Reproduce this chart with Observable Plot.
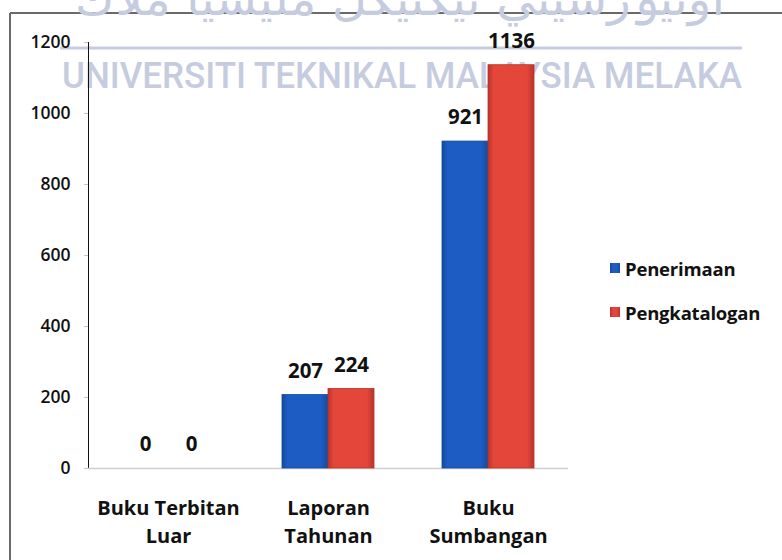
<!DOCTYPE html>
<html>
<head>
<meta charset="utf-8">
<script src="https://cdn.jsdelivr.net/npm/d3@7"></script>
<script src="https://cdn.jsdelivr.net/npm/@observablehq/plot@0.6"></script>
<style>
  html, body { margin: 0; padding: 0; background: #fff; }
  #wrap { position: relative; width: 782px; height: 560px; overflow: hidden; font-family: "Open Sans", sans-serif; }
  #legend { position: absolute; left: 610px; top: 254px; }
  .item { display: flex; align-items: center; height: 28px; margin-bottom: 16px; font-weight: 700; font-size: 18.5px; color: #111; letter-spacing: -0.2px; }
  .sw { width: 10px; height: 10px; margin-right: 5px; }
</style>
</head>
<body>
<div id="wrap"></div>
<script>
const categories = ["Buku Terbitan Luar", "Laporan Tahunan", "Buku Sumbangan"];
const categoryLabels = ["Buku Terbitan\nLuar", "Laporan\nTahunan", "Buku\nSumbangan"];
const seriesNames = ["Penerimaan", "Pengkatalogan"];
const penerimaan = [0, 207, 921];
const pengkatalogan = [0, 224, 1136];
const yTicks = [0, 200, 400, 600, 800, 1000, 1200];
const seriesColors = ["#1d5cc2", "#e4463a"];
const seriesEdges = ["#154a9e", "#b8342a"];
const watermarkLatin = "UNIVERSITI TEKNIKAL MALAYSIA MELAKA";
const watermarkJawi = "اونيۏرسيتي تيكنيكل مليسيا ملاك";

const rows = [];
categories.forEach((c, i) => {
  rows.push({cat: c, series: seriesNames[0], value: penerimaan[i]});
  rows.push({cat: c, series: seriesNames[1], value: pengkatalogan[i]});
});
const s0 = rows.filter(d => d.series === seriesNames[0]);
const s1 = rows.filter(d => d.series === seriesNames[1]);
const labelRows = categories.map((c, i) => ({cat: c, label: categoryLabels[i]}));

const plot = Plot.plot({
  width: 782,
  height: 560,
  marginLeft: 88,
  marginRight: 214,
  marginTop: 42,
  marginBottom: 92,
  style: {fontFamily: "Open Sans, sans-serif", color: "#111", background: "transparent", overflow: "visible"},
  x: {domain: categories, paddingInner: 0.425, paddingOuter: 0.2125, axis: null},
  y: {domain: [0, 1200], ticks: yTicks, tickSize: 4, tickPadding: 14, line: true, label: null, tickFormat: d => String(d)},
  color: {domain: seriesNames, range: seriesColors},
  marks: [
    Plot.ruleY([0], {stroke: "#cfcfcf", strokeWidth: 1.5}),
    Plot.barY(s0, {x: "cat", y: "value", fill: "series", insetRight: 46}),
    Plot.barY(s1, {x: "cat", y: "value", fill: "series", insetLeft: 46}),
    Plot.text(s0, {x: "cat", y: "value", text: d => String(d.value), dx: -23, dy: -24, fontSize: 20.5, fontWeight: 700, fill: "#111"}),
    Plot.text(s1, {x: "cat", y: "value", text: d => String(d.value), dx: 23, dy: -24, fontSize: 20.5, fontWeight: 700, fill: "#111"}),
    Plot.text(labelRows, {x: "cat", frameAnchor: "bottom", text: "label", lineAnchor: "top", dy: 27, lineHeight: 1.38, fontSize: 20, fontWeight: 700, fill: "#111"})
  ]
});

const svg = d3.select(plot);
// axis styling: light line & ticks, dark larger labels
svg.selectAll('[aria-label^="y-axis"]').each(function () {
  const g = d3.select(this);
  if (g.attr("stroke")) g.attr("stroke", "#c4c4c4");
  g.attr("font-size", 17.5).style("font-size", "17.5px").style("font-weight", 600);
  g.selectAll("path, line").attr("stroke", "#c4c4c4");
  g.selectAll("text").attr("fill", "#111").attr("font-size", 17.5).style("font-size", "17.5px").style("font-weight", 600);
});

// gradients for the bars (3D-like shading)
const defs = svg.insert("defs", ":first-child");
seriesColors.forEach((c, i) => {
  const g = defs.append("linearGradient").attr("id", "grad" + i).attr("x1", 0).attr("x2", 1).attr("y1", 0).attr("y2", 0);
  g.append("stop").attr("offset", "0%").attr("stop-color", seriesEdges[i]);
  g.append("stop").attr("offset", "12%").attr("stop-color", c);
  g.append("stop").attr("offset", "85%").attr("stop-color", c);
  g.append("stop").attr("offset", "100%").attr("stop-color", seriesEdges[i]);
});
svg.selectAll("rect").each(function () {
  const r = d3.select(this);
  const i = seriesColors.indexOf(r.attr("fill"));
  if (i >= 0) r.attr("fill", `url(#grad${i})`).attr("stroke", seriesEdges[i]).attr("stroke-width", 0.8);
});

// watermark + frame behind the marks
const bg = svg.insert("g", "defs + *").attr("aria-label", "watermark");
bg.append("line").attr("x1", 10).attr("x2", 782).attr("y1", 13).attr("y2", 13).attr("stroke", "#6a6a6a").attr("stroke-width", 2);
bg.append("line").attr("x1", 10).attr("x2", 10).attr("y1", 13).attr("y2", 560).attr("stroke", "#6a6a6a").attr("stroke-width", 2);
bg.append("text").text(watermarkJawi)
  .attr("x", 400).attr("y", 15).attr("text-anchor", "middle").attr("direction", "rtl")
  .attr("font-family", "DejaVu Sans, sans-serif").attr("font-size", 46)
  .attr("textLength", 650).attr("lengthAdjust", "spacingAndGlyphs")
  .attr("fill", "#c6cce0");
bg.append("line").attr("x1", 60).attr("x2", 742).attr("y1", 48).attr("y2", 48).attr("stroke", "#c6cce0").attr("stroke-width", 3);
bg.append("text").text(watermarkLatin)
  .attr("x", 62).attr("y", 88).attr("text-anchor", "start")
  .attr("font-family", "Roboto, sans-serif").attr("font-weight", 500).attr("font-size", 36)
  .attr("textLength", 680).attr("lengthAdjust", "spacingAndGlyphs")
  .attr("fill", "#c6cce0");

const wrap = document.getElementById("wrap");
wrap.appendChild(plot);

// legend
const legend = document.createElement("div");
legend.id = "legend";
seriesNames.forEach((name, i) => {
  const item = document.createElement("div");
  item.className = "item";
  const sw = document.createElement("span");
  sw.className = "sw";
  sw.style.background = `linear-gradient(90deg, ${seriesEdges[i]}, ${seriesColors[i]} 30%, ${seriesColors[i]} 70%, ${seriesEdges[i]})`;
  item.appendChild(sw);
  item.appendChild(document.createTextNode(name));
  legend.appendChild(item);
});
wrap.appendChild(legend);
</script>
</body>
</html>
